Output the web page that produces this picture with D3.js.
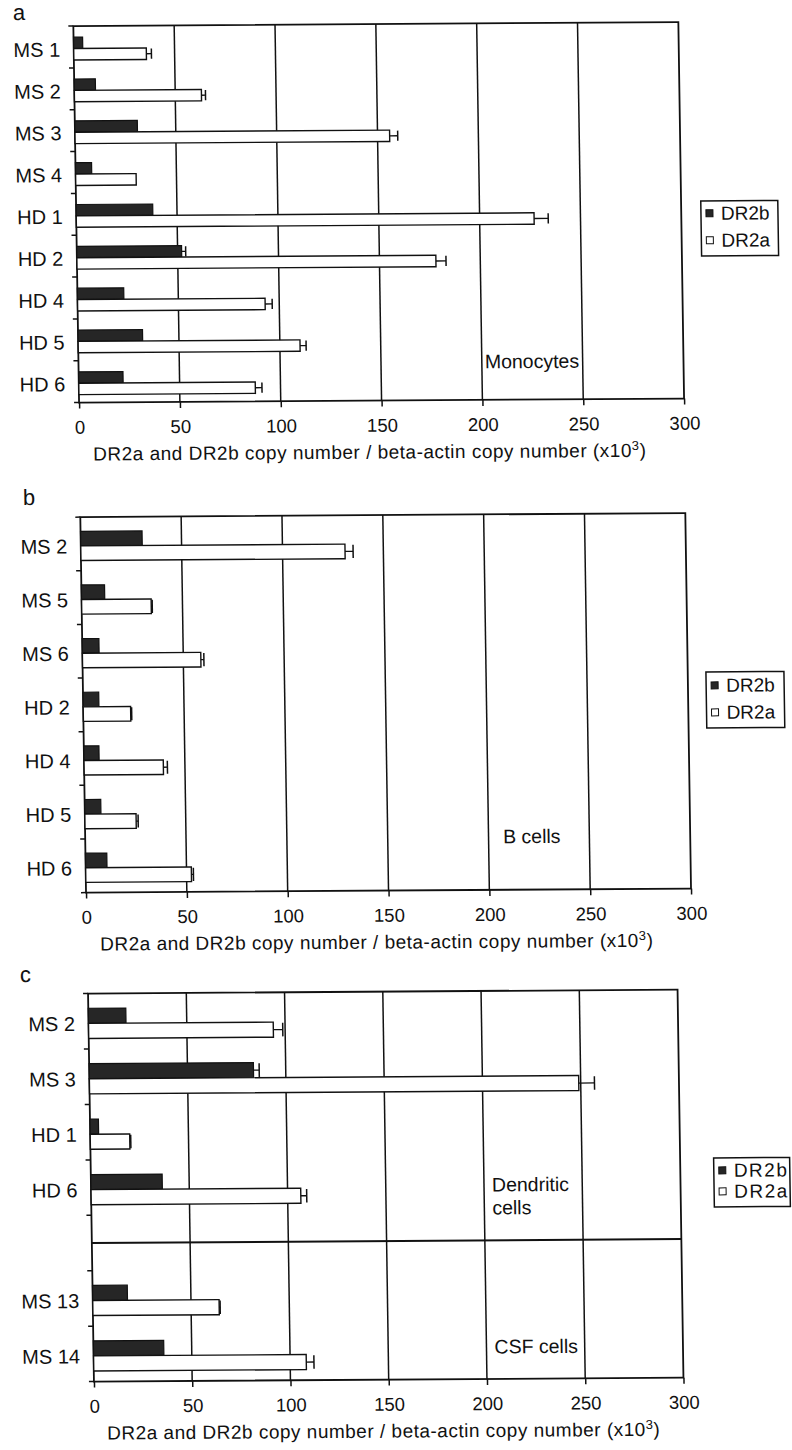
<!DOCTYPE html>
<html><head><meta charset="utf-8">
<script src="https://cdn.jsdelivr.net/npm/d3@7"></script>
<style>
html,body{margin:0;padding:0;background:#fff}
svg{display:block}
text{font-family:"Liberation Sans",Arial,Helvetica,sans-serif;fill:#111}
</style>
</head><body>
<svg id="chart" width="792" height="1450"></svg>
<script>
// ---------------- data ----------------
const xTickValues = [0, 50, 100, 150, 200, 250, 300];
const seriesNames = ["DR2b", "DR2a"];
const axisTitleMain = "DR2a and DR2b copy number / beta-actin copy number (x10";
const axisTitleSup = "3";

// panel a: monocytes
const monoCategories = ["MS 1", "MS 2", "MS 3", "MS 4", "HD 1", "HD 2", "HD 4", "HD 5", "HD 6"];
const monoDR2b = [4.5, 10.5, 31, 8, 38, 52, 23, 32, 22];
const monoDR2a = [36, 63, 156, 30, 227, 178, 93, 110, 87.5];
const monoErrDR2b = [0, 0, 0, 0, 0, 2, 0, 0, 0];
const monoErrDR2a = [2.5, 2, 4, 0, 7, 5, 3.5, 3, 3.3];

// panel b: B cells
const bCategories = ["MS 2", "MS 5", "MS 6", "HD 2", "HD 4", "HD 5", "HD 6"];
const bDR2b = [30.5, 11.5, 8.3, 7.8, 7.5, 8, 10.6];
const bDR2a = [131, 34.5, 58.7, 23.5, 39.3, 25.4, 52.4];
const bErrDR2b = [0, 0, 0, 0, 0, 0, 0];
const bErrDR2a = [4, 0.5, 1.5, 0.5, 2, 1, 1];

// panel c: dendritic cells + CSF cells
const dcCategories = ["MS 2", "MS 3", "HD 1", "HD 6"];
const dcDR2b = [19.1, 83.6, 4.3, 36.3];
const dcDR2a = [94, 249, 20.1, 106.7];
const dcErrDR2b = [0, 2.9, 0, 0];
const dcErrDR2a = [4.8, 8, 0.5, 3];

const csfCategories = ["MS 13", "MS 14"];
const csfDR2b = [17.7, 35.8];
const csfDR2a = [64.3, 108.2];
const csfErrDR2b = [0, 0];
const csfErrDR2a = [0.5, 3.9];

const annotA = ["Monocytes"];
const annotB = ["B cells"];
const annotDC = ["Dendritic", "cells"];
const annotCSF = ["CSF cells"];

// ---------------- drawing ----------------
const INK = "#111";
const DARK = "#262626";
const svg = d3.select("#chart");
// slight skew of the scanned page
const SK_X = 0.0152, SK_Y = 0.0067;
const root = svg.append("g")
  .attr("transform", `matrix(1,${-SK_Y},${SK_X},1,${-SK_X * 725},${SK_Y * 396})`);

function drawPanel(p) {
  const g = root.append("g");
  const x = d3.scaleLinear().domain([0, 300]).range([p.left, p.right]);
  const y = d3.scaleBand().domain(p.domain).range([p.top, p.bottom]).padding(0);
  const bw = y.bandwidth();
  const barH = bw * 0.272, off = bw * 0.265;

  // panel letter
  g.append("text").attr("x", p.letterPos[0]).attr("y", p.letterPos[1])
    .attr("font-size", 22).text(p.letter);

  // vertical gridlines
  g.selectAll("line.grid").data(xTickValues.filter(v => v > 0 && v < 300)).join("line")
    .attr("class", "grid")
    .attr("x1", d => x(d)).attr("x2", d => x(d))
    .attr("y1", p.top).attr("y2", p.bottom)
    .attr("stroke", INK).attr("stroke-width", 1.5);

  // separators (gap rows)
  (p.separators || []).forEach(key => {
    g.append("line")
      .attr("x1", x(0)).attr("x2", x(300))
      .attr("y1", y(key) + bw / 2).attr("y2", y(key) + bw / 2)
      .attr("stroke", INK).attr("stroke-width", 2);
  });

  // frame
  g.append("rect").attr("x", x(0)).attr("y", p.top)
    .attr("width", x(300) - x(0)).attr("height", p.bottom - p.top)
    .attr("fill", "none").attr("stroke", INK).attr("stroke-width", 1.8);

  // left axis ticks at band boundaries
  const bounds = p.domain.map(d => y(d)).concat([p.bottom]);
  g.selectAll("line.ytick").data(bounds).join("line").attr("class", "ytick")
    .attr("x1", x(0) - 5).attr("x2", x(0)).attr("y1", d => d).attr("y2", d => d)
    .attr("stroke", INK).attr("stroke-width", 1.5);

  // category labels
  const rows = [];
  p.groups.forEach(gr => {
    gr.cats.forEach((c, i) => rows.push({cat: c, b: gr.b[i], a: gr.a[i], eb: gr.eb[i], ea: gr.ea[i]}));
  });
  g.selectAll("text.cat").data(rows).join("text").attr("class", "cat")
    .attr("x", x(0) - 13.5).attr("y", d => y(d.cat) + bw / 2 + 9.5)
    .attr("text-anchor", "end").attr("font-size", 20).text(d => d.cat);

  // bars DR2b
  g.selectAll("rect.b").data(rows).join("rect").attr("class", "b")
    .attr("x", x(0)).attr("y", d => y(d.cat) + off)
    .attr("width", d => x(d.b) - x(0)).attr("height", barH)
    .attr("fill", DARK).attr("stroke", INK).attr("stroke-width", 1.2);
  // bars DR2a
  g.selectAll("rect.a").data(rows).join("rect").attr("class", "a")
    .attr("x", x(0)).attr("y", d => y(d.cat) + off + barH)
    .attr("width", d => x(d.a) - x(0)).attr("height", barH)
    .attr("fill", "#fff").attr("stroke", INK).attr("stroke-width", 1.4);

  // error bars
  const errs = [];
  rows.forEach(d => {
    if (d.eb > 0) errs.push({v: d.b, e: d.eb, cy: y(d.cat) + off + barH / 2});
    if (d.ea > 0) errs.push({v: d.a, e: d.ea, cy: y(d.cat) + off + barH * 1.5});
  });
  const eg = g.selectAll("g.err").data(errs).join("g").attr("class", "err");
  eg.append("line").attr("x1", d => x(d.v)).attr("x2", d => x(d.v + d.e))
    .attr("y1", d => d.cy).attr("y2", d => d.cy).attr("stroke", INK).attr("stroke-width", 1.3);
  eg.append("line").attr("x1", d => x(d.v + d.e)).attr("x2", d => x(d.v + d.e))
    .attr("y1", d => d.cy - barH * 0.45).attr("y2", d => d.cy + barH * 0.45)
    .attr("stroke", INK).attr("stroke-width", 1.5);

  // bottom axis
  const axg = g.append("g").attr("transform", `translate(0,${p.bottom})`)
    .call(d3.axisBottom(x).tickValues(xTickValues).tickSize(6).tickPadding(12));
  axg.select(".domain").remove();
  axg.attr("font-family", null).attr("font-size", null);
  axg.selectAll("line").attr("stroke", INK).attr("stroke-width", 1.5);
  axg.selectAll("text").attr("font-size", 18.5).attr("fill", INK);

  // axis title
  const t = g.append("text").attr("x", p.titleX).attr("y", p.bottom + 58)
    .attr("text-anchor", "middle").attr("font-size", 19).attr("letter-spacing", 0.5);
  t.append("tspan").text(axisTitleMain);
  t.append("tspan").attr("dy", -7).attr("font-size", 13).text(axisTitleSup);
  t.append("tspan").attr("dy", 7).text(")");

  // annotations
  p.annots.forEach(an => {
    an.lines.forEach((ln, i) => {
      g.append("text").attr("x", x(an.xv) + an.dx).attr("y", an.y + i * 23)
        .attr("font-size", 19.5).text(ln);
    });
  });

  // legend
  const L = p.legend;
  const lg = g.append("g");
  lg.append("rect").attr("x", L.x).attr("y", L.y).attr("width", L.w).attr("height", L.h)
    .attr("fill", "#fff").attr("stroke", INK).attr("stroke-width", 1.5);
  seriesNames.forEach((s, i) => {
    const by = L.y + L.rows[i];
    lg.append("rect").attr("x", L.x + 5).attr("y", by - 10).attr("width", 7).attr("height", 7)
      .attr("fill", i === 0 ? DARK : "#fff").attr("stroke", INK).attr("stroke-width", 1);
    lg.append("text").attr("x", L.x + 20).attr("y", by).attr("font-size", 19)
      .attr("letter-spacing", L.ls || 0).text(s);
  });
}

drawPanel({
  letter: "a", letterPos: [23.7, 17.4],
  domain: monoCategories,
  groups: [{cats: monoCategories, b: monoDR2b, a: monoDR2a, eb: monoErrDR2b, ea: monoErrDR2a}],
  top: 24, bottom: 400.5, left: 84, right: 689, titleX: 374,
  annots: [{lines: annotA, xv: 200, dx: 3, y: 369}],
  legend: {x: 708.7, y: 203, w: 77, h: 55, rows: [19, 46]}
});

drawPanel({
  letter: "b", letterPos: [26.3, 502.5],
  domain: bCategories,
  groups: [{cats: bCategories, b: bDR2b, a: bDR2a, eb: bErrDR2b, ea: bErrDR2a}],
  top: 515, bottom: 890.5, left: 83.5, right: 688.5, titleX: 373.5,
  annots: [{lines: annotB, xv: 200, dx: 14.5, y: 844}],
  legend: {x: 706.7, y: 674, w: 78, h: 56, rows: [20, 47]}
});

drawPanel({
  letter: "c", letterPos: [16.1, 979.5],
  domain: [...dcCategories, "gap", ...csfCategories],
  separators: ["gap"],
  groups: [
    {cats: dcCategories, b: dcDR2b, a: dcDR2a, eb: dcErrDR2b, ea: dcErrDR2a},
    {cats: csfCategories, b: csfDR2b, a: csfDR2a, eb: csfErrDR2b, ea: csfErrDR2a}
  ],
  top: 991.5, bottom: 1379.5, left: 84, right: 673.5, titleX: 373,
  annots: [{lines: annotDC, xv: 200, dx: 8, y: 1192}, {lines: annotCSF, xv: 200, dx: 8, y: 1354}],
  legend: {x: 707, y: 1160, w: 76, h: 49, rows: [19, 40], ls: 1.5}
});
</script>
</body></html>
